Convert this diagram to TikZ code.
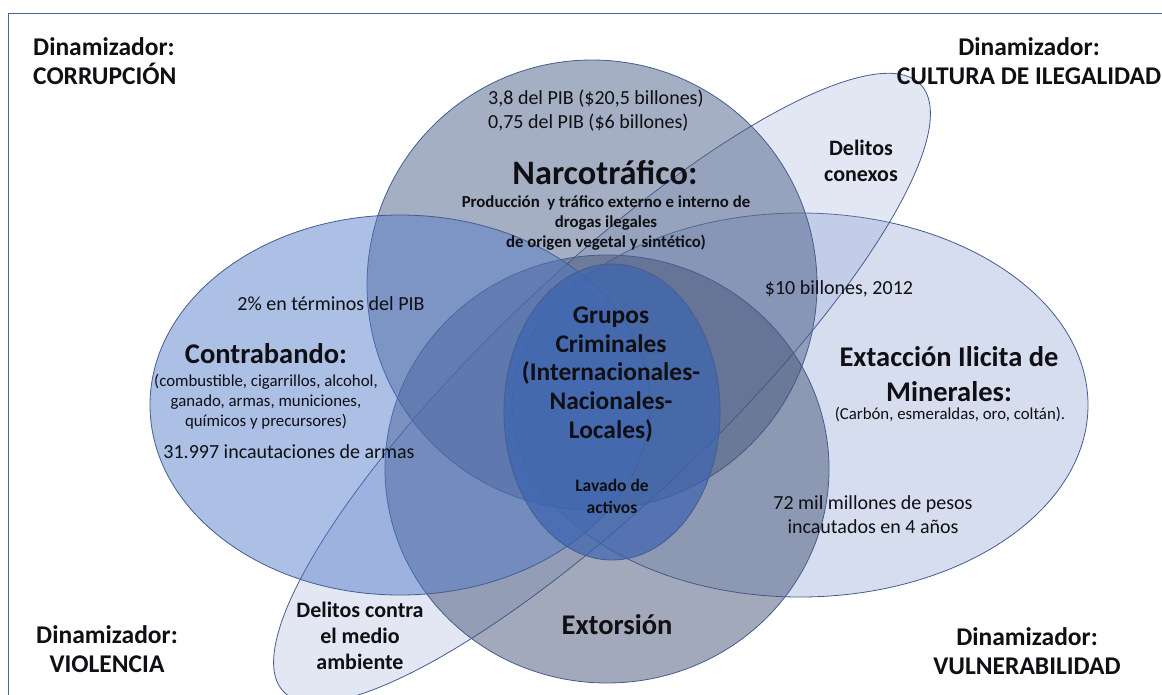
\documentclass[tikz,border=0pt]{standalone}
\usepackage{fontspec}
\setmainfont{Carlito}
\definecolor{edge}{RGB}{68,92,145}
\definecolor{frame}{RGB}{70,100,160}
\definecolor{cContra}{RGB}{80,120,200}
\definecolor{cNarco}{RGB}{77,97,137}
\definecolor{cExtr}{RGB}{120,145,205}
\definecolor{cExto}{RGB}{70,85,120}
\definecolor{cTilt}{RGB}{140,160,210}
\definecolor{cCore}{RGB}{60,100,175}
\definecolor{ink}{RGB}{15,15,20}
\tikzset{
  blob/.style={draw=edge, line width=0.8pt},
  dyn/.style={font=\bfseries\fontsize{25.5}{29}\selectfont, text=ink, inner sep=0pt},
  ttl/.style={font=\bfseries\fontsize{28.5}{35}\selectfont, align=center, text=ink, inner sep=0pt},
  dat/.style={font=\fontsize{20}{24}\selectfont, text=ink, inner sep=0pt},
  itm/.style={font=\fontsize{16.8}{19.8}\selectfont, align=center, text=ink, inner sep=0pt},
  nsub/.style={font=\bfseries\fontsize{16.8}{19.8}\selectfont, align=center, text=ink, inner sep=0pt},
  grp/.style={font=\bfseries\fontsize{25.4}{28.6}\selectfont, align=center, text=ink, inner sep=0pt},
  lav/.style={font=\bfseries\fontsize{17.5}{22}\selectfont, align=center, text=ink, inner sep=0pt},
  del/.style={font=\bfseries\fontsize{22}{26}\selectfont, align=center, text=ink, inner sep=0pt}
}
\begin{document}
\begin{tikzpicture}[x=1pt,y=-1pt]
\useasboundingbox (0,0) rectangle (1162,694);
\fill[white] (0,0) rectangle (1162,694);
\draw[frame, line width=0.9pt] (8,700) -- (8,13) -- (1170,13);
% shapes
\path[blob, fill=cExtr, fill opacity=0.3] (800,405) ellipse [x radius=288, y radius=192];
\path[blob, fill=cTilt, fill opacity=0.25, rotate around={43.6:(602,388)}] (602,388) ellipse [x radius=440, y radius=115];
\path[blob, fill=cNarco, fill opacity=0.5] (592,285) ellipse [x radius=225, y radius=225];
\path[blob, fill=cExto, fill opacity=0.5] (607,469) ellipse [x radius=222, y radius=214];
\path[blob, fill=cContra, fill opacity=0.47] (400,405) ellipse [x radius=250, y radius=190];
\path[blob, fill=cCore, fill opacity=0.7] (612,412) ellipse [x radius=108, y radius=148];
% texts
\node[dyn, anchor=west, align=left] (d1) at (33,61.5) {Dinamizador:\\CORRUPCIÓN};
\node[dyn, align=center] (d2) at (1029,61.5) {Dinamizador:\\CULTURA DE ILEGALIDAD};
\node[dyn, align=center] (d3) at (107,649) {Dinamizador:\\VIOLENCIA};
\node[dyn, align=center] (d4) at (1027,651) {Dinamizador:\\VULNERABILIDAD};
\node[dat, anchor=west, align=left] (n1) at (488,111) {3,8 del PIB (\$20,5 billones)\\0,75 del PIB (\$6 billones)};
\node[ttl, font=\bfseries\fontsize{34.3}{38}\selectfont] (n2) at (605,173) {Narcotráfico:};
\node[nsub] (n3) at (606,223) {Producción~ y tráfico externo e interno de\\drogas ilegales\\de origen vegetal y sintético)};
\node[dat] (c1) at (331,304) {2\% en términos del PIB};
\node[ttl] (c2) at (266,354) {Contrabando:};
\node[itm] (c3) at (266,402) {(combustible, cigarrillos, alcohol,\\ganado, armas, municiones,\\químicos y precursores)};
\node[dat] (c4) at (289,452) {31.997 incautaciones de armas};
\node[dat] (m1) at (839,289) {\$10 billones, 2012};
\node[ttl] (m2) at (949,374.5) {Extacción Ilicita de\\Minerales:};
\node[itm] (m3) at (950,415) {(Carbón, esmeraldas, oro, coltán).};
\node[dat, align=center] (m4) at (873,515) {72 mil millones de pesos\\incautados en 4 años};
\node[grp] (g1) at (611,374.5) {Grupos\\Criminales\\(Internacionales-\\Nacionales-\\Locales)};
\node[lav] (g2) at (612,496) {Lavado de\\activos};
\node[del] (t1) at (861,161) {Delitos\\conexos};
\node[del] (t2) at (360,636) {Delitos contra\\el medio\\ambiente};
\node[ttl] (e1) at (617,625) {Extorsión};
\end{tikzpicture}
\end{document}
